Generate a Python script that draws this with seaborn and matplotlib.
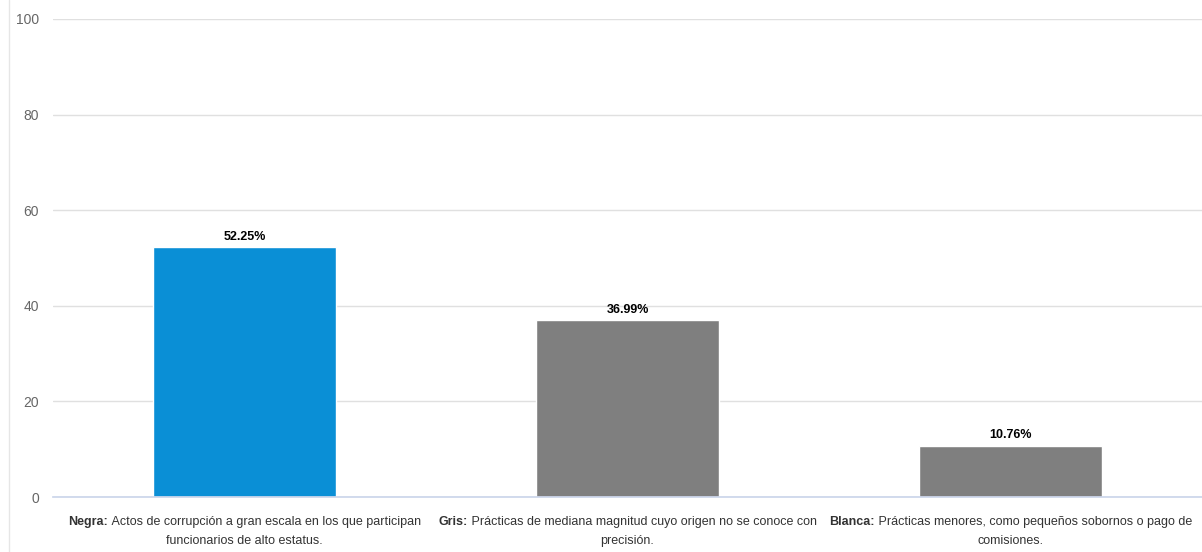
import matplotlib
matplotlib.use("Agg")
import matplotlib.pyplot as plt
import seaborn as sns
import pandas as pd

categories = ["Negra", "Gris", "Blanca"]
descriptions = [
    ["Actos de corrupción a gran escala en los que participan", "funcionarios de alto estatus."],
    ["Prácticas de mediana magnitud cuyo origen no se conoce con", "precisión."],
    ["Prácticas menores, como pequeños sobornos o pago de", "comisiones."],
]
values = [52.25, 36.99, 10.76]
value_labels = ["52.25%", "36.99%", "10.76%"]
y_ticks = [0, 20, 40, 60, 80, 100]

sns.set_theme(style="white")
plt.rcParams["font.family"] = ["Liberation Sans", "DejaVu Sans"]

df = pd.DataFrame({"cat": categories, "val": values})
colors = ["#0a8fd6", "#7f7f7f", "#7f7f7f"]

fig = plt.figure(figsize=(12.02, 5.52), dpi=100)
ax = fig.add_axes([0.0441, 0.0996, 0.9559, 0.866])
sns.barplot(data=df, x="cat", y="val", hue="cat", palette=colors, width=0.48,
            saturation=1, legend=False, ax=ax)

ax.set_ylim(0, 100)
ax.set_xlim(-0.5, 2.5)
ax.set_yticks(y_ticks)
ax.set_yticklabels([str(t) for t in y_ticks], color="#666666", fontsize=10)
ax.grid(axis="y", color="#e0e0e0", linewidth=1)
ax.set_axisbelow(True)
for s in ["top", "right", "left"]:
    ax.spines[s].set_visible(False)
ax.spines["bottom"].set_color("#ccd6eb")
ax.tick_params(axis="y", length=0, pad=10)

ax.set_xticks(range(len(categories)))
ax.set_xticklabels([""] * len(categories))
ax.tick_params(axis="x", which="major", length=0)
ax.set_xticks([-0.5, 0.5, 1.5], minor=True)
ax.tick_params(axis="x", which="minor", length=10, color="#ccd6eb", width=1)
ax.set_xlabel("")
ax.set_ylabel("")

for i, (v, lab) in enumerate(zip(values, value_labels)):
    ax.annotate(lab, (i, v), xytext=(0, 3), textcoords="offset points",
                ha="center", va="bottom", fontsize=9, fontweight="bold", color="#000000")

# category labels: bold prefix + regular text, second line centered
renderer = fig.canvas.get_renderer()
fs = 9
line1_off = -20  # points below axis
line2_off = -34
for i, (c, d) in enumerate(zip(categories, descriptions)):
    tb = ax.annotate(c + ":", (i, 0), xycoords=("data", "axes fraction"),
                     xytext=(0, line1_off), textcoords="offset points",
                     ha="left", va="baseline", fontsize=fs, fontweight="bold", color="#333333")
    tr = ax.annotate("\u00a0" + d[0], (i, 0), xycoords=("data", "axes fraction"),
                     xytext=(0, line1_off), textcoords="offset points",
                     ha="left", va="baseline", fontsize=fs, color="#333333")
    wb = tb.get_window_extent(renderer).width * 72 / fig.dpi
    wr = tr.get_window_extent(renderer).width * 72 / fig.dpi
    total = wb + wr
    tb.set_position((-total / 2, line1_off))
    tr.set_position((-total / 2 + wb, line1_off))
    ax.annotate(d[1], (i, 0), xycoords=("data", "axes fraction"),
                xytext=(0, line2_off), textcoords="offset points",
                ha="center", va="baseline", fontsize=fs, color="#333333")

fig.add_artist(plt.Line2D([9 / 1202, 9 / 1202], [0, 1], color="#e6e6e6", linewidth=1,
                          transform=fig.transFigure))

fig.savefig("out.png", dpi=100)
